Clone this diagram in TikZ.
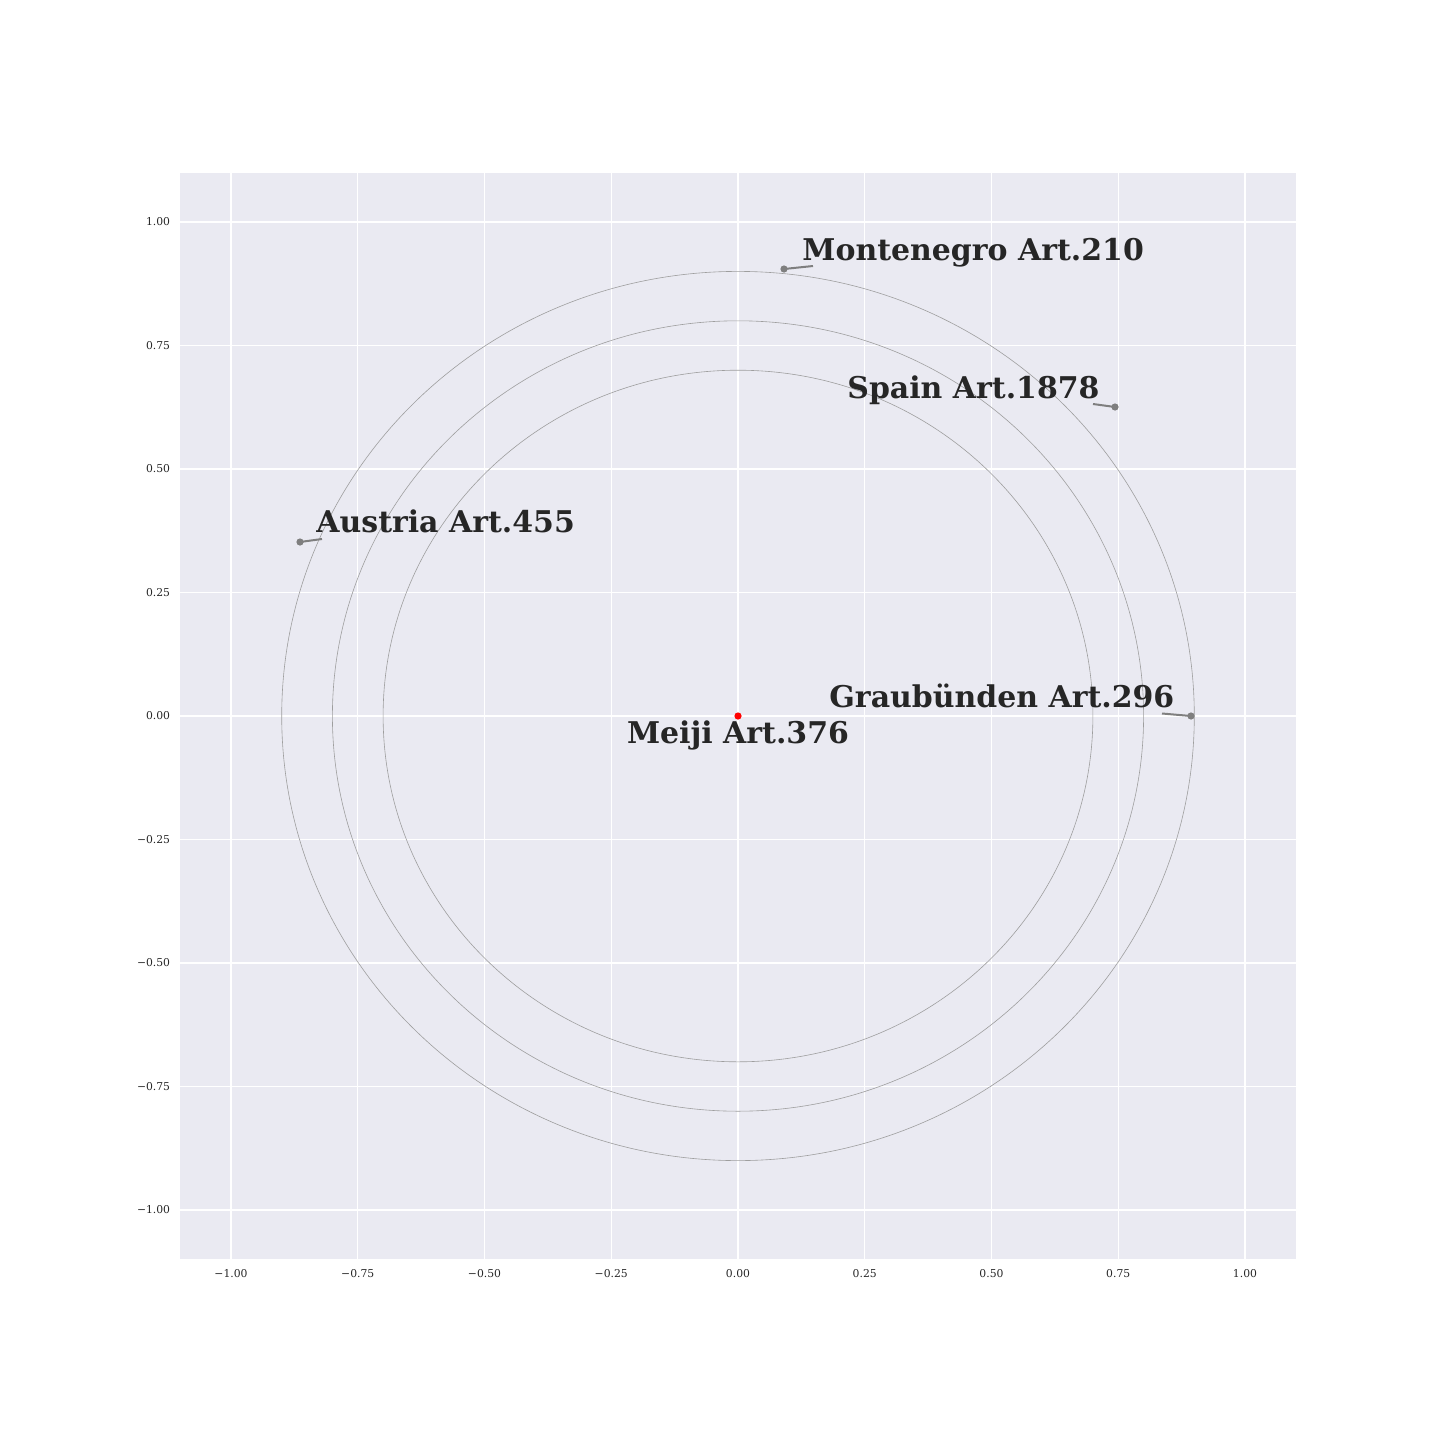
\documentclass[tikz,border=0pt]{standalone}
\usepackage{fontspec}
\setmainfont{DejaVu Serif}
\definecolor{bgc}{HTML}{EAEAF2}
\definecolor{txt}{HTML}{262626}
\definecolor{ptc}{HTML}{7F7F7F}
\begin{document}
\begin{tikzpicture}[x=0.5pt,y=-0.5pt,
  gridline/.style={white,line width=0.6pt},
  ring/.style={draw=black!38,line width=0.3pt},
  ticklab/.style={font=\fontsize{5.4}{6}\selectfont,text=txt,inner sep=0pt},
  biglab/.style={font=\fontsize{14.97}{18}\selectfont\bfseries,text=txt,inner sep=0pt},
  pt/.style={circle,fill=ptc,inner sep=0pt,minimum size=3.6pt},
  redpt/.style={circle,fill=red,inner sep=0pt,minimum size=3.6pt},
  leader/.style={draw=ptc,line width=1pt}]
\useasboundingbox (0,0) rectangle (1440,1440);
\fill[bgc] (180.3,172.6) rectangle (1295.7,1259.4);
% grid
\foreach \X in {231,357.75,484.5,611.25,738,864.75,991.5,1118.25,1245}
  \draw[gridline] (\X,172.6) -- (\X,1259.4);
\foreach \Y in {222,345.5,469,592.5,716,839.5,963,1086.5,1210}
  \draw[gridline] (180.3,\Y) -- (1295.7,\Y);
% tick labels
\foreach \X/\t [count=\i] in {231/{−1.00},357.75/{−0.75},484.5/{−0.50},611.25/{−0.25},738/{0.00},864.75/{0.25},991.5/{0.50},1118.25/{0.75},1245/{1.00}}
  \node[ticklab,anchor=north] (xt\i) at (\X,1269) {\t};
\foreach \Y/\t [count=\i] in {222/{1.00},345.5/{0.75},469/{0.50},592.5/{0.25},716/{0.00},839.5/{−0.25},963/{−0.50},1086.5/{−0.75},1210/{−1.00}}
  \node[ticklab,anchor=east] (yt\i) at (170.5,\Y) {\t};
% rings
\draw[ring] (738,716) ellipse [x radius=456.3, y radius=444.6];
\draw[ring] (738,716) ellipse [x radius=405.6, y radius=395.2];
\draw[ring] (738,716) ellipse [x radius=354.9, y radius=345.8];
% points
\node[redpt] (meiji) at (738,716) {};
\node[pt] (mont) at (784,269) {};
\node[pt] (spain) at (1115,407) {};
\node[pt] (aust) at (300,542) {};
\node[pt] (graub) at (1191,716) {};
% leader ends
\coordinate (montE) at (813,266);
\coordinate (spainE) at (1093,404);
\coordinate (austE) at (322,539);
\coordinate (graubE) at (1162,713.5);
\draw[leader] (mont.center) -- (montE);
\draw[leader] (spain.center) -- (spainE);
\draw[leader] (aust.center) -- (austE);
\draw[leader] (graub.center) -- (graubE);
% labels
\node[biglab,anchor=base west] (montL) at (802,260.5) {Montenegro Art.210};
\node[biglab,anchor=base west] (spainL) at (847,398.5) {Spain Art.1878};
\node[biglab,anchor=base west] (austL) at (316,532.5) {Austria Art.455};
\node[biglab,anchor=base west] (graubL) at (829,707.5) {Graubünden Art.296};
\node[biglab,anchor=base] (meijiL) at (738,743.5) {Meiji Art.376};
\end{tikzpicture}
\end{document}
